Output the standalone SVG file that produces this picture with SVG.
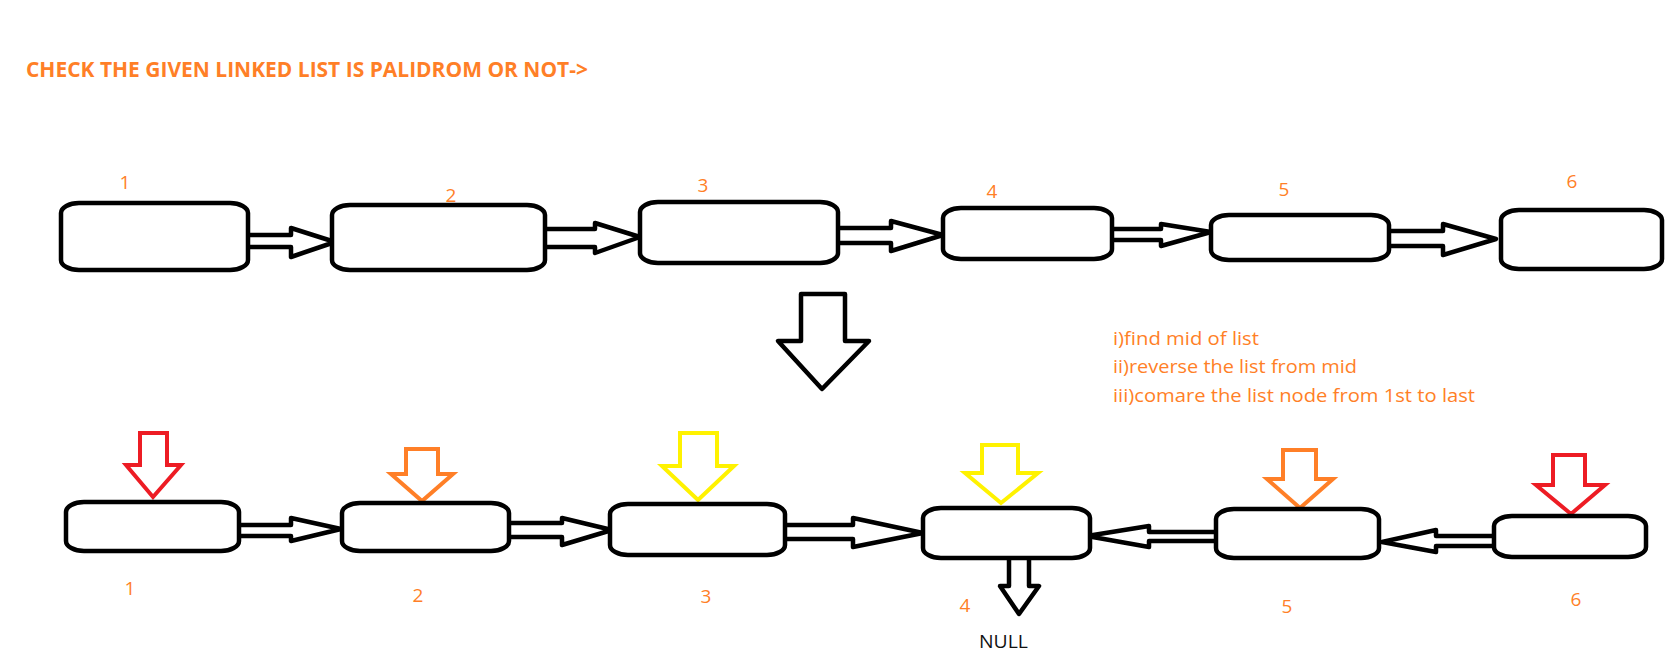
<svg xmlns="http://www.w3.org/2000/svg" width="1679" height="660" viewBox="0 0 1679 660">
<style>
.node{fill:#fff;stroke:#000;stroke-width:4.5}
.arr{fill:#fff;stroke:#000;stroke-width:4.5;stroke-linejoin:round;stroke-linecap:round}
.ptr{fill:#fff;stroke-width:4;stroke-linejoin:miter}
.red{stroke:#ED1C24}.org{stroke:#FF7F27}.yel{stroke:#FFF200}
.lbl{font-family:"Open Sans","Liberation Sans",sans-serif;font-size:19px;fill:#FF7F27;text-anchor:middle}
.note{font-family:"Open Sans","Liberation Sans",sans-serif;font-size:19px;fill:#FF7F27}
</style>
<rect width="1679" height="660" fill="#fff"/>
<text x="26" y="77" font-family="'Open Sans','Liberation Sans',sans-serif" font-weight="bold" font-size="22" fill="#FF7F27" textLength="562" lengthAdjust="spacingAndGlyphs">CHECK THE GIVEN LINKED LIST IS PALIDROM OR NOT-&gt;</text>
<g id="connectors">
<path class="arr" d="M248,235H291V228L335,242L291,257V247H248"/>
<path class="arr" d="M545,229H595V223L640,237L595,253V247H545"/>
<path class="arr" d="M838,228H891V221L943,235L891,251V243H838"/>
<path class="arr" d="M1112,229H1161V224L1211,232L1161,246V240H1112"/>
<path class="arr" d="M1389,231H1443V224L1496,239L1443,255V246H1389"/>
<path class="arr" d="M801,294H845V341H869L822,389L778,341H801Z"/>
<path class="arr" d="M239,525H291V518L341,529L291,541V536H239"/>
<path class="arr" d="M509,523H562V518L612,530L562,545V537H509"/>
<path class="arr" d="M785,525H853V518L923,533L853,547V539H785"/>
<path class="arr" d="M1216,532H1149V526L1087,536L1149,547V541H1216"/>
<path class="arr" d="M1494,536H1436V530L1382,542L1436,552V546H1494"/>
<path class="arr" d="M1009,558V586H1000L1019,614L1039,586H1029V558"/>
</g>
<g id="pointers">
<path class="ptr red" d="M140,433H167V465H181L153,497L126,465H140Z"/>
<path class="ptr org" d="M406,449H438V474H453L422,501L391,474H406Z"/>
<path class="ptr yel" d="M680,433H717V466H734L698,500L662,466H680Z"/>
<path class="ptr yel" d="M982,445H1018V473H1038L1001,503L965,473H982Z"/>
<path class="ptr org" d="M1283,450H1316V479H1333L1300,508L1267,479H1283Z"/>
<path class="ptr red" d="M1553,455H1585V485H1605L1571,514L1536,485H1553Z"/>
</g>
<g id="n1"><rect class="node" x="61" y="203" width="187" height="67" rx="18" ry="10"/><text class="lbl" x="125" y="189">1</text></g>
<g id="n2"><rect class="node" x="332" y="205" width="213" height="65" rx="18" ry="10"/><text class="lbl" x="451" y="202">2</text></g>
<g id="n3"><rect class="node" x="640" y="202" width="198" height="61" rx="18" ry="10"/><text class="lbl" x="703" y="192">3</text></g>
<g id="n4"><rect class="node" x="943" y="208" width="169" height="51" rx="18" ry="10"/><text class="lbl" x="992" y="198">4</text></g>
<g id="n5"><rect class="node" x="1211" y="215" width="178" height="45" rx="18" ry="10"/><text class="lbl" x="1284" y="196">5</text></g>
<g id="n6"><rect class="node" x="1501" y="210" width="161" height="59" rx="18" ry="10"/><text class="lbl" x="1572" y="188">6</text></g>
<g id="b1"><rect class="node" x="66" y="502" width="173" height="49" rx="18" ry="10"/><text class="lbl" x="130" y="595">1</text></g>
<g id="b2"><rect class="node" x="342" y="503" width="167" height="48" rx="18" ry="10"/><text class="lbl" x="418" y="602">2</text></g>
<g id="b3"><rect class="node" x="610" y="504" width="175" height="51" rx="18" ry="10"/><text class="lbl" x="706" y="603">3</text></g>
<g id="b4"><rect class="node" x="923" y="508" width="167" height="50" rx="18" ry="10"/><text class="lbl" x="965" y="612">4</text></g>
<g id="b5"><rect class="node" x="1216" y="509" width="163" height="49" rx="18" ry="10"/><text class="lbl" x="1287" y="613">5</text></g>
<g id="b6"><rect class="node" x="1494" y="516" width="152" height="41" rx="18" ry="10"/><text class="lbl" x="1576" y="606">6</text></g>
<g id="null"><text x="979" y="648" font-family="'Open Sans','Liberation Sans',sans-serif" font-size="19" fill="#111" textLength="49" lengthAdjust="spacingAndGlyphs">NULL</text></g>
<g id="notes">
<text class="note" x="1113" y="345" textLength="146" lengthAdjust="spacingAndGlyphs">i)find mid of list</text>
<text class="note" x="1113" y="373" textLength="244" lengthAdjust="spacingAndGlyphs">ii)reverse the list from mid</text>
<text class="note" x="1113" y="402" textLength="362" lengthAdjust="spacingAndGlyphs">iii)comare the list node from 1st to last</text>
</g>
</svg>
